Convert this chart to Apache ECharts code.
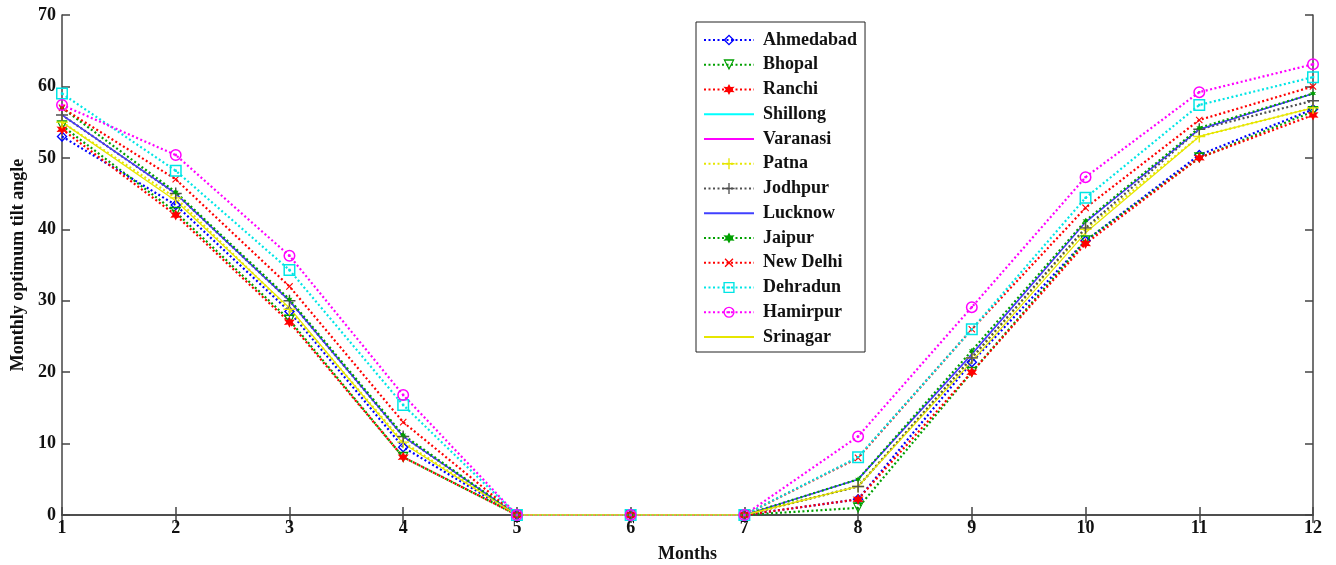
<!DOCTYPE html>
<html>
<head>
<meta charset="utf-8">
<script src="https://cdn.jsdelivr.net/npm/echarts@6/dist/echarts.min.js"></script>
<style>
  html, body { margin: 0; padding: 0; background: #fff; }
  #chart { width: 1336px; height: 565px; }
</style>
</head>
<body>
<div id="chart"></div>
<script>
// months on the x axis
const months = [1, 2, 3, 4, 5, 6, 7, 8, 9, 10, 11, 12];

// monthly optimum tilt angle per city
const ahmedabad = [53, 43.4, 28.5, 9.5, 0, 0, 0, 2.2, 21.4, 38.4, 50.4, 56.8];
const bhopal    = [54.5, 42.4, 27.3, 8.1, 0, 0, 0, 1, 20, 38.4, 50, 56.5];
const ranchi    = [54, 42, 27, 8.1, 0, 0, 0, 2.2, 20, 38, 50, 56];
const shillong  = [56, 45, 30, 11, 0, 0, 0, 5, 22.5, 41, 54, 59];
const varanasi  = [56, 45, 30, 11, 0, 0, 0, 5, 22.5, 41, 54, 59];
const patna     = [55, 44.4, 28.8, 10.2, 0, 0, 0, 4, 22, 40, 53, 57];
const jodhpur   = [56, 45, 30, 11, 0, 0, 0, 4, 22, 40.2, 54, 58];
const lucknow   = [56, 45, 30, 11, 0, 0, 0, 5, 22.5, 41, 54, 59];
const jaipur    = [57, 45.2, 30.2, 11.2, 0, 0, 0, 5, 23, 41.2, 54.2, 59];
const newDelhi  = [57, 47, 32, 13, 0, 0, 0, 8, 26, 43, 55.3, 60];
const dehradun  = [59, 48.2, 34.3, 15.4, 0, 0, 0, 8.1, 26, 44.4, 57.4, 61.3];
const hamirpur  = [57.4, 50.4, 36.3, 16.8, 0, 0, 0, 11, 29.1, 47.3, 59.2, 63.1];
const srinagar  = [55, 44, 29, 10, 0, 0, 0, 4, 21.5, 39.5, 53, 57];

const yTicks = { min: 0, max: 70, step: 10 };

// marker shapes (MATLAB-like, hollow where needed)
const DIAMOND = 'path://M0,-10L10,0L0,10L-10,0ZM0,-6.5L-6.5,0L0,6.5L6.5,0Z';
const TRI_DOWN = 'path://M-10,-8L10,-8L0,10ZM-6.5,-5.5L0,5.5L6.5,-5.5Z';
const HEXAGRAM = 'path://M0,-10L2.5,-4.33L8.66,-5L5,0L8.66,5L2.5,4.33L0,10L-2.5,4.33L-8.66,5L-5,0L-8.66,-5L-2.5,-4.33Z';
const PLUS = 'path://M-1.2,-10H1.2V-1.2H10V1.2H1.2V10H-1.2V1.2H-10V-1.2H-1.2Z';
const SQUARE = 'path://M-10,-10H10V10H-10ZM-7.5,-7.5V7.5H7.5V-7.5ZM-2,-2H2V2H-2Z';
const CIRCLE = 'path://M-10,0A10,10 0 1,1 10,0A10,10 0 1,1 -10,0ZM-7.5,0A7.5,7.5 0 1,0 7.5,0A7.5,7.5 0 1,0 -7.5,0ZM-2,-2H2V2H-2Z';

const font = 'Liberation Serif';

function line(name, values, color, dotted, symbol, size, rotate) {
    return {
        name: name,
        type: 'line',
        data: months.map((m, i) => [m, values[i]]),
        color: color,
        symbol: symbol || 'none',
        symbolSize: size || 10,
        symbolRotate: rotate || 0,
        showSymbol: !!symbol,
        lineStyle: { color: color, width: dotted ? 2.2 : 1.3, type: dotted ? [2, 2.5] : 'solid' },
        itemStyle: { color: color },
        emphasis: { disabled: true },
        animation: false
    };
}

const series = [
    line('Ahmedabad', ahmedabad, '#0000ff', true, DIAMOND, 11),
    line('Bhopal', bhopal, '#00a000', true, TRI_DOWN, 11),
    line('Ranchi', ranchi, '#ff0000', true, HEXAGRAM, 11),
    line('Shillong', shillong, '#00ffff', false),
    line('Varanasi', varanasi, '#ff00ff', false),
    line('Patna', patna, '#e6e600', true, PLUS, 12),
    line('Jodhpur', jodhpur, '#505050', true, PLUS, 12),
    line('Lucknow', lucknow, '#4040ff', false),
    line('Jaipur', jaipur, '#00a000', true, HEXAGRAM, 6),
    line('New Delhi', newDelhi, '#ff0000', true, PLUS, 9, 45),
    line('Dehradun', dehradun, '#00e5e5', true, SQUARE, 12),
    line('Hamirpur', hamirpur, '#ff00ff', true, CIRCLE, 12),
    line('Srinagar', srinagar, '#e6e600', false)
];

// legend entries: solid-line series show only their line
const legendData = series.map(s => s.showSymbol
    ? { name: s.name }
    : { name: s.name, itemStyle: { opacity: 0 } });

const axisLine = { show: true, lineStyle: { color: '#444', width: 1.5 } };
const axisTick = { show: true, inside: true, length: 8, lineStyle: { color: '#444', width: 1.5 } };
const labelStyle = { color: '#111', fontFamily: font, fontWeight: 'bold', fontSize: 18 };

const chart = echarts.init(document.getElementById('chart'));
chart.setOption({
    backgroundColor: '#fff',
    animation: false,
    grid: { left: 62, right: 23, top: 15, bottom: 50, outerBoundsMode: 'none', containLabel: false },
    legend: {
        orient: 'vertical',
        left: 696,
        top: 22,
        itemWidth: 50,
        itemHeight: 14,
        itemGap: 6.75,
        padding: [9, 8, 6, 7],
        backgroundColor: '#fff',
        borderColor: '#222',
        borderWidth: 1,
        textStyle: { fontFamily: font, fontWeight: 'bold', fontSize: 18, color: '#111', padding: [0, 0, 0, 4] },
        data: legendData
    },
    xAxis: [
        {
            type: 'value', min: 1, max: 12, interval: 1,
            name: 'Months', nameLocation: 'middle', nameGap: 30,
            nameTextStyle: labelStyle,
            axisLine: axisLine, axisTick: axisTick,
            axisLabel: Object.assign({ margin: 4 }, labelStyle),
            splitLine: { show: false }
        },
        {
            type: 'value', min: 1, max: 12, interval: 1, position: 'top',
            axisLine: axisLine, axisTick: axisTick,
            axisLabel: { show: false }, splitLine: { show: false }
        }
    ],
    yAxis: [
        {
            type: 'value', min: yTicks.min, max: yTicks.max, interval: yTicks.step,
            name: 'Monthly optimum tilt angle', nameLocation: 'middle', nameGap: 35,
            nameTextStyle: labelStyle,
            axisLine: axisLine, axisTick: axisTick,
            axisLabel: Object.assign({ margin: 6 }, labelStyle),
            splitLine: { show: false }
        },
        {
            type: 'value', min: yTicks.min, max: yTicks.max, interval: yTicks.step, position: 'right',
            axisLine: axisLine, axisTick: axisTick,
            axisLabel: { show: false }, splitLine: { show: false }
        }
    ],
    series: series
});
window.addEventListener('resize', () => chart.resize());
</script>
</body>
</html>
